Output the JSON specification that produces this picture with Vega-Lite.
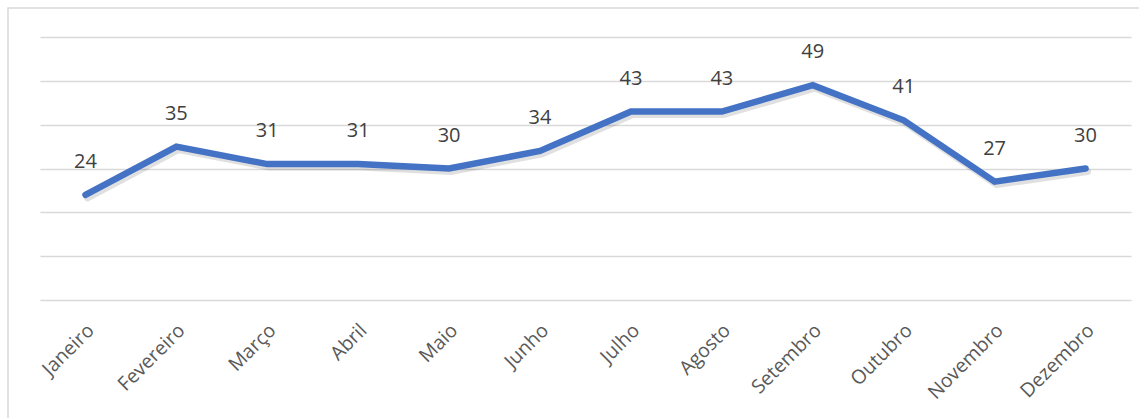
{
  "$schema": "https://vega.github.io/schema/vega-lite/v6.json",
  "autosize": "none",
  "padding": {"left": 8, "top": 8, "right": 0, "bottom": 0},
  "width": 1140,
  "height": 420,
  "background": "white",
  "config": {
    "view": {"stroke": "#d9d9d9", "strokeWidth": 1.5},
    "font": "Open Sans"
  },
  "data": {
    "values": [
      {"mes": "Janeiro", "valor": 24},
      {"mes": "Fevereiro", "valor": 35},
      {"mes": "Março", "valor": 31},
      {"mes": "Abril", "valor": 31},
      {"mes": "Maio", "valor": 30},
      {"mes": "Junho", "valor": 34},
      {"mes": "Julho", "valor": 43},
      {"mes": "Agosto", "valor": 43},
      {"mes": "Setembro", "valor": 49},
      {"mes": "Outubro", "valor": 41},
      {"mes": "Novembro", "valor": 27},
      {"mes": "Dezembro", "valor": 30}
    ]
  },
  "encoding": {
    "x": {
      "field": "mes",
      "type": "ordinal",
      "sort": null,
      "scale": {"type": "point", "padding": 0.5, "range": [32, 1123]},
      "axis": {
        "title": null,
        "orient": "bottom",
        "offset": -128,
        "domain": false,
        "ticks": false,
        "labelAngle": -45,
        "labelAlign": "right",
        "labelBaseline": "middle",
        "labelPadding": 27,
        "labelOffset": 5,
        "labelFontSize": 19.5,
        "labelColor": "#595959",
        "labelFont": "Open Sans"
      }
    },
    "y": {
      "field": "valor",
      "type": "quantitative",
      "scale": {"domain": [0, 60], "range": [292, 29], "nice": false, "zero": true},
      "axis": {
        "title": null,
        "values": [0, 10, 20, 30, 40, 50, 60],
        "grid": true,
        "gridColor": "#d9d9d9",
        "gridWidth": 1.5,
        "domain": false,
        "ticks": false,
        "labels": false
      }
    }
  },
  "layer": [
    {
      "mark": {"type": "line", "stroke": "#000000", "strokeOpacity": 0.12, "strokeWidth": 7, "strokeCap": "round", "xOffset": 2, "yOffset": 3}
    },
    {
      "mark": {"type": "line", "stroke": "#4472C4", "strokeWidth": 6.5, "strokeCap": "round", "strokeJoin": "miter"}
    },
    {
      "mark": {"type": "text", "baseline": "middle", "align": "center", "dy": -33, "fontSize": 20, "fill": "#404040", "font": "Open Sans"},
      "encoding": {"text": {"field": "valor", "type": "quantitative"}}
    }
  ]
}
